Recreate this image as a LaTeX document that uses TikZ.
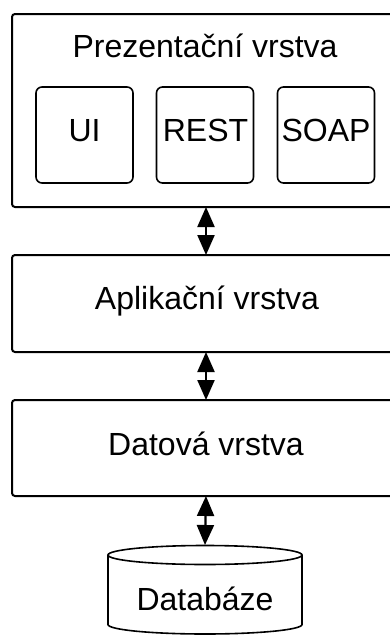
\documentclass[tikz,border=0pt]{standalone}
\usepackage{fontspec}
\setmainfont{Liberation Sans}
\usetikzlibrary{arrows.meta}
\tikzset{
  layer/.style={draw, line width=2pt, rounded corners=3pt, minimum width=388pt, inner sep=0pt, outer sep=0pt},
  sub/.style={draw, line width=1.6pt, rounded corners=6pt, minimum width=97pt, minimum height=96pt, inner sep=0pt, outer sep=0pt},
  lbl/.style={anchor=base, inner sep=0pt, font=\fontsize{32}{38}\selectfont},
  link/.style={line width=2.2pt, {Triangle[width=17pt,length=20pt]}-{Triangle[width=17pt,length=20pt]}},
}
\begin{document}
\begin{tikzpicture}[x=1pt,y=1pt]
\useasboundingbox (0,0) rectangle (390,-635);
\clip (0,0) rectangle (390,-635);
% layers
\node[layer, minimum height=193pt] (pres) at (206,-110.5) {};
\node[layer, minimum height=97pt] (app) at (206,-303.5) {};
\node[layer, minimum height=96pt] (data) at (206,-448) {};
% sub boxes
\node[sub] (ui) at (84.5,-135) {};
\node[sub] (rest) at (205,-135) {};
\node[sub] (soap) at (326,-135) {};
% labels
\node[lbl] (tpres) at (205,-57.7) {Prezentační vrstva};
\node[lbl] (tui) at (84.5,-141.5) {UI};
\node[lbl] (trest) at (205.5,-141.5) {REST};
\node[lbl] (tsoap) at (326,-141.5) {SOAP};
\node[lbl] (tapp) at (207,-309.3) {Aplikační vrstva};
\node[lbl] (tdata) at (206,-455) {Datová vrstva};
% database cylinder
\node[inner sep=0pt, outer sep=0pt, minimum width=194pt, minimum height=89.5pt] (db) at (205,-589.75) {};
\draw[line width=1.6pt] (205,-555) ellipse [x radius=97, y radius=9.5];
\draw[line width=1.6pt] (108,-555) -- (108,-624.5) arc[start angle=180, end angle=360, x radius=97, y radius=9.5] -- (302,-555);
\node[lbl] (tdb) at (205,-610) {Databáze};
% connectors
\draw[link] (pres.south) -- (app.north);
\draw[link] (app.south) -- (data.north);
\draw[link] (data.south) -- (db.north);
\end{tikzpicture}
\end{document}
